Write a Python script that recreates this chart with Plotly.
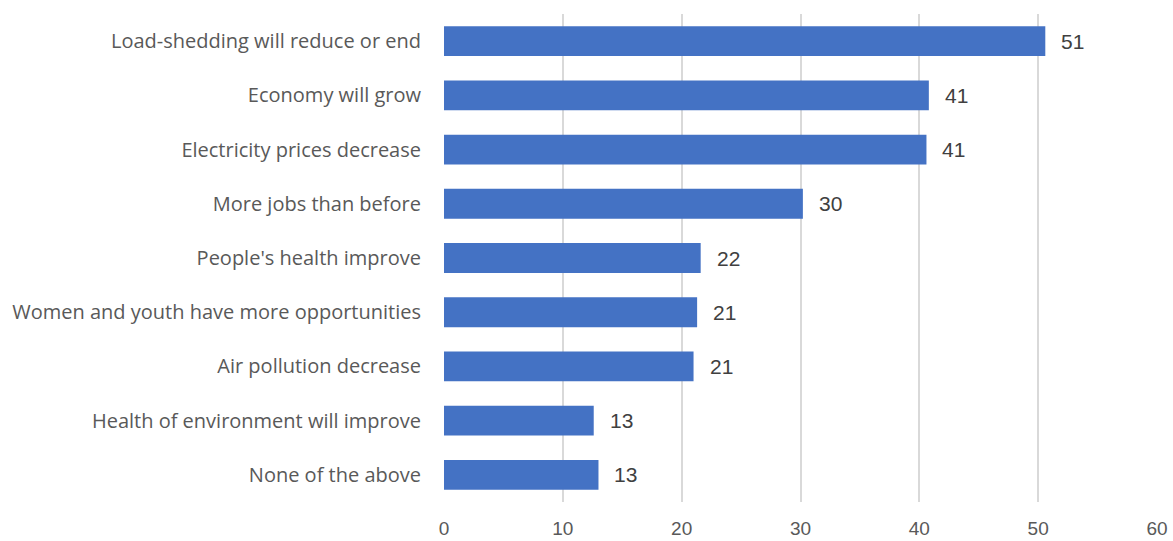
import plotly.graph_objects as go

# Survey responses: expected benefits (percent of respondents)
categories = [
    "Load-shedding will reduce or end",
    "Economy will grow",
    "Electricity prices decrease",
    "More jobs than before",
    "People's health improve",
    "Women and youth have more opportunities",
    "Air pollution decrease",
    "Health of environment will improve",
    "None of the above",
]
values = [50.6, 40.8, 40.6, 30.2, 21.6, 21.3, 21.0, 12.6, 13.0]
x_ticks = [0, 10, 20, 30, 40, 50, 60]

fig = go.Figure(
    go.Bar(
        x=values,
        y=categories,
        orientation="h",
        width=0.55,
        marker=dict(color="#4472C4", line=dict(width=0)),
        hoverinfo="skip",
    )
)

for cat, v in zip(categories, values):
    fig.add_annotation(
        x=v, y=cat, text=f"{round(v)}", showarrow=False,
        xanchor="left", xshift=14,
        font=dict(family="Liberation Sans, Arial", size=21, color="#404040"),
    )

fig.update_layout(
    width=1173, height=541,
    margin=dict(l=444, r=16, t=14, b=39),
    paper_bgcolor="white", plot_bgcolor="white",
    showlegend=False,
    bargap=0.45,
)
fig.update_xaxes(
    range=[0, 60], tickvals=x_ticks,
    showgrid=True, gridcolor="#D9D9D9", gridwidth=1.5,
    zeroline=False, showline=False, ticks="",
    automargin=False,
    ticklabelstandoff=13,
    tickfont=dict(family="Liberation Sans, Arial", size=19, color="#595959"),
)
fig.update_yaxes(
    categoryorder="array", categoryarray=categories[::-1],
    showgrid=False, zeroline=False, showline=False, ticks="",
    automargin=False,
    ticklabelstandoff=22,
    tickfont=dict(family="Open Sans", size=20, color="#595959"),
)

fig.write_html("out.html")
